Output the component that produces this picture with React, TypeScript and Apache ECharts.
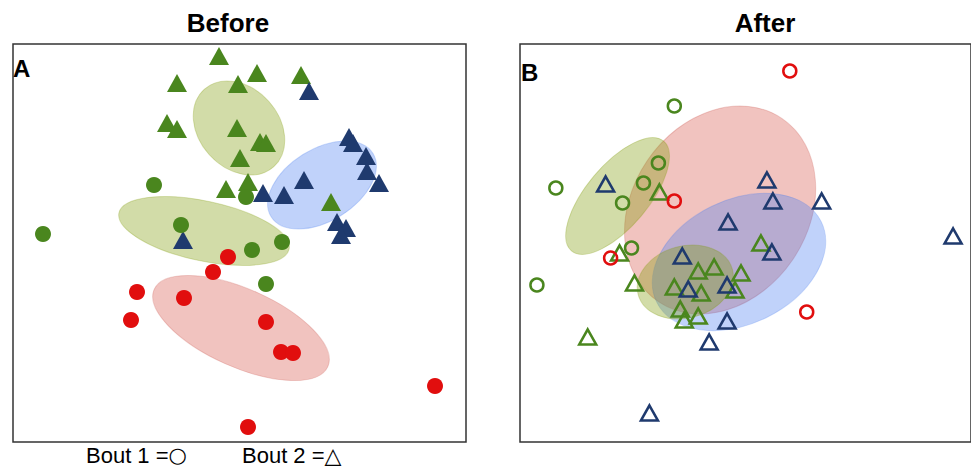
import React, { useEffect, useRef } from "react";
import * as echarts from "echarts";

// Coordinates are ordination scores (units: arbitrary, x right, y up)
// Panel A "Before" — filled markers
const beforeGreenBout2 = [
  [206, 386], [164, 359], [225, 358], [244, 369], [288, 367], [154, 319], [164, 313],
  [224, 314], [247, 300], [253, 299], [227, 284], [235, 260], [213, 253], [318, 240],
];
const beforeBlueBout2 = [
  [296, 351], [336, 305], [340, 299], [353, 286], [354, 271], [366, 259], [291, 262],
  [271, 247], [250, 249], [324, 220], [333, 214], [328, 207], [170, 202],
];
const beforeGreenBout1 = [
  [141, 257], [233, 245], [30, 208], [168, 217], [239, 192], [269, 200], [253, 158],
];
const beforeRedBout1 = [
  [215, 185], [200, 170], [124, 150], [171, 144], [118, 122], [253, 120], [268, 90],
  [280, 89], [422, 56], [235, 15],
];

// Panel B "After" — open markers
const afterGreenBout2 = [
  [140, 250], [100, 189], [115, 159], [68, 105], [179, 171], [195, 175], [242, 199],
  [222, 169], [155, 155], [182, 149], [216, 152], [161, 133], [165, 122], [179, 126],
];
const afterBlueBout2 = [
  [86, 258], [248, 262], [254, 241], [303, 241], [209, 220], [435, 206], [253, 190],
  [163, 186], [169, 153], [208, 157], [208, 121], [190, 100], [130, 29],
];
const afterGreenBout1 = [
  [155, 336], [139, 279], [124, 259], [103, 239], [36, 254], [112, 194], [17, 157],
];
const afterRedBout1 = [[271, 371], [155, 241], [91, 184], [288, 130]];

// Ellipses: [centerX, centerY, semiAxisX, semiAxisY, rotationDeg]
const beforeEllipseRed = [228, 114, 95, 39, -24];
const beforeEllipseBlue = [309, 257, 60, 36, 32];
const beforeEllipseGreen1 = [191, 211, 87, 30, -12];
const beforeEllipseGreen2 = [226, 314, 52, 40, -48];

const afterEllipseRed = [201, 232, 111, 88, 56];
const afterEllipseBlue = [220, 180, 92, 62, 26];
const afterEllipseGreen1 = [98, 246, 72, 31, 50];
const afterEllipseGreen2 = [166, 160, 49, 36, 15];

const panelTitles = ["Before", "After"];
const panelLetters = ["A", "B"];
const legendLabels = ["Bout 1 =", "Bout 2 ="];
const legendSymbols = ["○", "△"];

const X_MAX = 453;
const Y_MAX = 398;

const GREEN = "#4a861e";
const NAVY = "#1f3a6e";
const RED = "#e10e0e";

const FILL_RED = "rgba(215,84,72,0.35)";
const FILL_BLUE = "rgba(75,126,241,0.35)";
const FILL_GREEN = "rgba(126,155,6,0.35)";
const STROKE_RED = "rgba(200,80,70,0.25)";
const STROKE_BLUE = "rgba(75,126,241,0.25)";
const STROKE_GREEN = "rgba(126,155,6,0.25)";

const FONT = "'Liberation Sans', Arial, sans-serif";

function ellipseSeries(params: number[], idx: number, fill: string, stroke: string) {
  return {
    type: "custom",
    xAxisIndex: idx,
    yAxisIndex: idx,
    silent: true,
    data: [params],
    renderItem: (_p: any, api: any) => {
      const c = api.coord([api.value(0), api.value(1)]);
      const s = api.size([api.value(2), api.value(3)]);
      return {
        type: "ellipse",
        x: c[0],
        y: c[1],
        rotation: (api.value(4) * Math.PI) / 180,
        shape: { cx: 0, cy: 0, rx: s[0], ry: s[1] },
        style: { fill, stroke, lineWidth: 1 },
      };
    },
  };
}

function filled(data: number[][], idx: number, symbol: string, color: string) {
  return {
    type: "scatter",
    xAxisIndex: idx,
    yAxisIndex: idx,
    silent: true,
    symbol,
    symbolSize: symbol === "triangle" ? [20, 18] : 16,
    itemStyle: { color, opacity: 1 },
    data,
  };
}

function open(data: number[][], idx: number, symbol: string, color: string) {
  return {
    type: "scatter",
    xAxisIndex: idx,
    yAxisIndex: idx,
    silent: true,
    symbol,
    symbolSize: symbol === "triangle" ? [17, 15] : 13,
    itemStyle: { color: "rgba(0,0,0,0)", borderColor: color, borderWidth: 2.5, opacity: 1 },
    data,
  };
}

function legendText(i: number, x: number, symSize: number) {
  return {
    type: "text",
    x,
    y: 455,
    style: {
      text: `${legendLabels[i]}{s|${legendSymbols[i]}}`,
      font: `22px ${FONT}`,
      fill: "#000",
      textAlign: "left",
      textVerticalAlign: "middle",
      lineHeight: 22,
      rich: {
        s: { fontFamily: "'DejaVu Sans'", fontSize: symSize, lineHeight: 22, fill: "#000", color: "#000" },
      },
    },
  };
}

export default function App() {
  const ref = useRef<HTMLDivElement>(null);
  useEffect(() => {
    const chart = echarts.init(ref.current!, null, { renderer: "svg" });
    const gridBase = {
      top: 44,
      width: X_MAX,
      height: Y_MAX,
      show: true,
      borderColor: "#333333",
      borderWidth: 1.5,
      backgroundColor: "transparent",
    };
    const axisX = (i: number) => ({ gridIndex: i, type: "value", min: 0, max: X_MAX, show: false });
    const axisY = (i: number) => ({ gridIndex: i, type: "value", min: 0, max: Y_MAX, show: false });
    chart.setOption({
      animation: false,
      backgroundColor: "#ffffff",
      grid: [
        { ...gridBase, left: 13 },
        { ...gridBase, left: 520 },
      ],
      xAxis: [axisX(0), axisX(1)],
      yAxis: [axisY(0), axisY(1)],
      graphic: [
        { type: "text", x: 228, y: 23, style: { text: panelTitles[0], font: `bold 26px ${FONT}`, fill: "#000", textAlign: "center", textVerticalAlign: "middle" } },
        { type: "text", x: 765, y: 23, style: { text: panelTitles[1], font: `bold 26px ${FONT}`, fill: "#000", textAlign: "center", textVerticalAlign: "middle" } },
        { type: "text", x: 13, y: 68, style: { text: panelLetters[0], font: `bold 24px ${FONT}`, fill: "#000", textAlign: "left", textVerticalAlign: "middle" } },
        { type: "text", x: 521, y: 72, style: { text: panelLetters[1], font: `bold 24px ${FONT}`, fill: "#000", textAlign: "left", textVerticalAlign: "middle" } },
        legendText(0, 86, 21),
        legendText(1, 242, 22),
      ],
      series: [
        ellipseSeries(beforeEllipseRed, 0, FILL_RED, STROKE_RED),
        ellipseSeries(beforeEllipseBlue, 0, FILL_BLUE, STROKE_BLUE),
        ellipseSeries(beforeEllipseGreen1, 0, FILL_GREEN, STROKE_GREEN),
        ellipseSeries(beforeEllipseGreen2, 0, FILL_GREEN, STROKE_GREEN),
        filled(beforeGreenBout2, 0, "triangle", GREEN),
        filled(beforeBlueBout2, 0, "triangle", NAVY),
        filled(beforeGreenBout1, 0, "circle", GREEN),
        filled(beforeRedBout1, 0, "circle", RED),

        ellipseSeries(afterEllipseRed, 1, FILL_RED, STROKE_RED),
        ellipseSeries(afterEllipseBlue, 1, FILL_BLUE, STROKE_BLUE),
        ellipseSeries(afterEllipseGreen1, 1, FILL_GREEN, STROKE_GREEN),
        ellipseSeries(afterEllipseGreen2, 1, FILL_GREEN, STROKE_GREEN),
        open(afterGreenBout2, 1, "triangle", GREEN),
        open(afterGreenBout1, 1, "circle", GREEN),
        open(afterBlueBout2, 1, "triangle", NAVY),
        open(afterRedBout1, 1, "circle", RED),
      ],
    });
    return () => chart.dispose();
  }, []);
  return (
    <div
      ref={ref}
      style={{ position: "absolute", left: 0, top: 0, width: 971, height: 467 }}
    />
  );
}
